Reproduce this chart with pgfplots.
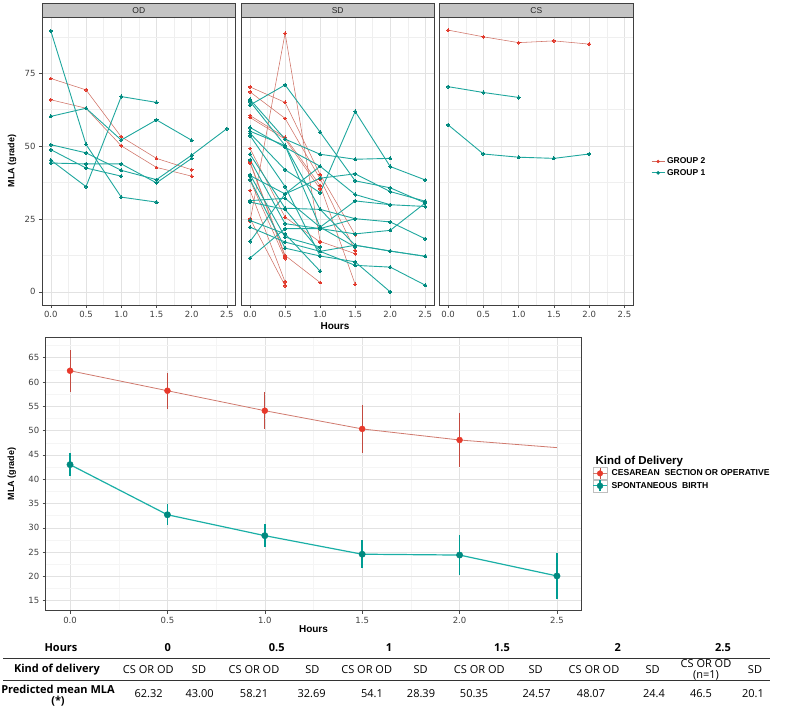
\documentclass[border=0pt]{standalone}
\usepackage{fontspec}
\setmainfont{Liberation Sans}
\newfontfamily\dejavu{DejaVu Sans}
\newfontfamily\opensans{Open Sans}
\usepackage{pgfplots}
\pgfplotsset{compat=1.18}
\definecolor{tealLine}{HTML}{1FA79E}
\definecolor{tealPt}{HTML}{00897E}
\definecolor{redLine}{HTML}{CF7165}
\definecolor{redPt}{HTML}{E2392C}
\definecolor{bRedLine}{HTML}{D07A6E}
\definecolor{bRedErr}{HTML}{C34A40}
\definecolor{bRedPt}{HTML}{E8392B}
\definecolor{bTealLine}{HTML}{1AAFA6}
\definecolor{bTealPt}{HTML}{008A80}
\definecolor{bTealErr}{HTML}{009C92}
\definecolor{gridMaj}{HTML}{E2E2E2}
\definecolor{gridMin}{HTML}{EFEFEF}
\definecolor{stripGray}{HTML}{C4C4C4}
\pgfplotsset{
  common/.style={scale only axis,
    xmin=-0.125, xmax=2.625,
    xtick={0,0.5,1,1.5,2,2.5}, xticklabels={0.0,0.5,1.0,1.5,2.0,2.5},
    minor xtick={0.25,0.75,1.25,1.75,2.25},
    grid=both, major grid style={color=gridMaj, line width=0.5pt},
    minor grid style={color=gridMin, line width=0.4pt},
    tick align=outside, xtick pos=bottom, ytick pos=left,
    major tick length=3pt, minor tick length=0pt,
    tick style={color=black!70, line width=0.5pt},
    axis line style={color=black!75, line width=0.7pt},
    ticklabel style={font=\dejavu\fontsize{8.5}{10}\selectfont, color=black!75},
    /pgf/number format/assume math mode=true},
  panel/.style={common, width=193.5pt, height=288pt, ymin=-4.5, ymax=94.3,
    ytick={0,25,50,75}, yticklabels={0,25,50,75},
    minor ytick={12.5,37.5,62.5,87.5}},
  tl/.style={color=tealLine, line width=0.9pt, mark=*, mark size=1.6pt,
    mark options={fill=tealPt, draw=tealPt, line width=0pt}, forget plot},
  rl/.style={color=redLine, line width=0.55pt, mark=*, mark size=1.4pt,
    mark options={fill=redPt, draw=redPt, line width=0pt}, forget plot},
}
\begin{document}
\begin{tikzpicture}
\useasboundingbox (0pt,0pt) rectangle (787pt,712pt);
% ---------------- OD ----------------
\begin{axis}[panel, at={(42pt,407pt)}, anchor=south west, width=193.7pt,
  ylabel={\bfseries MLA (grade)},
  ylabel style={font=\fontsize{9}{10}\selectfont, at={(axis description cs:-0.115,0.5)}, anchor=south}]
\addplot[rl] coordinates {(0,73.2)(0.5,69.3)(1,53.2)(1.5,45.8)(2,41.9)};
\addplot[rl] coordinates {(0,65.9)(0.5,63.0)(1,50.1)(1.5,42.7)(2,39.7)};
\addplot[tl] coordinates {(0,89.5)(0.5,50.6)(1,32.5)(1.5,30.8)};
\addplot[tl] coordinates {(0,60.2)(0.5,63.0)(1,52.1)(1.5,59.0)(2,52.0)};
\addplot[tl] coordinates {(0,50.5)(0.5,47.7)(1,41.7)(1.5,38.5)(2,46.9)(2.5,56.0)};
\addplot[tl] coordinates {(0,48.8)(0.5,42.5)(1,39.7)};
\addplot[tl] coordinates {(0,44.2)(0.5,43.9)(1,43.9)(1.5,37.4)(2,45.8)};
\addplot[tl] coordinates {(0,45.2)(0.5,36.1)(1,67.0)(1.5,65.0)};
\end{axis}
% ---------------- SD ----------------
\begin{axis}[panel, at={(241.3pt,407pt)}, anchor=south west, width=192.7pt,
  yticklabels={}, ytick style={draw=none}]
\addplot[rl] coordinates {(0,24.2)(0.5,88.7)(1,17.3)(1.5,13.1)};
\addplot[rl] coordinates {(0,70.3)(0.5,65.0)(1,40.2)(1.5,19.6)};
\addplot[rl] coordinates {(0,68.6)(0.5,59.5)(1,38.8)(1.5,14.2)};
\addplot[rl] coordinates {(0,60.5)(0.5,53.0)(1,36.5)(1.5,2.6)};
\addplot[rl] coordinates {(0,59.8)(0.5,52.4)(1,35.3)};
\addplot[rl] coordinates {(0,49.2)(0.5,25.6)(1,17.1)};
\addplot[rl] coordinates {(0,44.6)(0.5,12.5)(1,3.2)};
\addplot[rl] coordinates {(0,44.2)(0.5,12.0)};
\addplot[rl] coordinates {(0,38.2)(0.5,11.4)};
\addplot[rl] coordinates {(0,34.8)(0.5,3.4)};
\addplot[rl] coordinates {(0,25.1)(0.5,2.1)};
\addplot[tl] coordinates {(0,64.1)(0.5,71.0)(1,54.8)(1.5,38.1)(2,35.7)(2.5,30.5)};
\addplot[tl] coordinates {(0,66.0)(0.5,52.4)(1,47.2)(1.5,45.5)(2,45.8)};
\addplot[tl] coordinates {(0,65.3)(0.5,50.2)(1,22.2)(1.5,15.4)};
\addplot[tl] coordinates {(0,56.4)(0.5,49.6)(1,43.1)(1.5,33.4)(2,29.9)(2.5,29.3)};
\addplot[tl] coordinates {(0,55.1)(0.5,50.2)(1,28.3)(1.5,16.0)(2,14.0)(2.5,12.2)};
\addplot[tl] coordinates {(0,54.4)(0.5,41.9)(1,34.0)(1.5,61.9)(2,43.0)(2.5,38.4)};
\addplot[tl] coordinates {(0,53.6)(0.5,36.1)(1,12.3)(1.5,10.3)(2,0.0)};
\addplot[tl] coordinates {(0,47.2)(0.5,28.7)(1,28.3)(1.5,25.1)(2,24.0)(2.5,18.2)};
\addplot[tl] coordinates {(0,45.3)(0.5,23.4)(1,21.7)(1.5,19.9)(2,21.1)(2.5,30.5)};
\addplot[tl] coordinates {(0,40.2)(0.5,18.8)(1,15.4)};
\addplot[tl] coordinates {(0,39.9)(0.5,33.6)(1,39.0)(1.5,40.5)(2,34.4)(2.5,31.1)};
\addplot[tl] coordinates {(0,31.3)(0.5,32.1)(1,22.2)(1.5,31.2)(2,29.9)};
\addplot[tl] coordinates {(0,30.8)(0.5,28.3)(1,13.9)(1.5,9.1)(2,8.5)(2.5,2.3)};
\addplot[tl] coordinates {(0,24.5)(0.5,19.9)(1,7.1)};
\addplot[tl] coordinates {(0,22.2)(0.5,17.1)(1,13.9)(1.5,16.0)(2,14.0)(2.5,12.2)};
\addplot[tl] coordinates {(0,17.3)(0.5,33.6)(1,43.1)};
\addplot[tl] coordinates {(0,11.6)(0.5,21.7)(1,21.7)(1.5,25.1)};
\addplot[tl] coordinates {(0,38.5)(0.5,15.0)(1,12.3)};
\end{axis}
% ---------------- CS ----------------
\begin{axis}[panel, at={(439.3pt,407pt)}, anchor=south west, width=194pt,
  yticklabels={}, ytick style={draw=none},
  legend style={at={(axis description cs:1.091,0.519)}, anchor=north west,
    draw=none, fill=none, inner sep=0pt, row sep=0pt,
    font=\bfseries\fontsize{8.5}{10}\selectfont},
  legend cell align=left]
\addlegendimage{legend image code/.code={\draw[redLine,line width=0.6pt] (0pt,0pt)--(13pt,0pt); \fill[redPt] (6.5pt,0pt) circle (1.5pt);}}
\addlegendentry{GROUP 2}
\addlegendimage{legend image code/.code={\draw[tealLine,line width=0.9pt] (0pt,0pt)--(13pt,0pt); \fill[tealPt] (6.5pt,0pt) circle (1.7pt);}}
\addlegendentry{GROUP 1}
\addplot[rl] coordinates {(0,89.8)(0.5,87.5)(1,85.5)(1.5,86.1)(2,85.0)};
\addplot[tl] coordinates {(0,70.4)(0.5,68.4)(1,66.7)};
\addplot[tl] coordinates {(0,57.3)(0.5,47.3)(1,46.2)(1.5,45.8)(2,47.3)};
\end{axis}
% strips
\foreach \l/\r/\t in {42/235.7/OD, 241.3/434/SD, 439.3/633.3/CS}{
  \draw[fill=stripGray, draw=black!75, line width=0.7pt] (\l pt,695pt) rectangle (\r pt,708.7pt);
  \node[font=\fontsize{8.5}{10}\selectfont, text=black!85] at ({(\l+\r)/2 pt},701.85pt) {\t};
}
\node[font=\bfseries\fontsize{10}{11}\selectfont] at (335pt,386pt) {Hours};
% ---------------- bottom ----------------
\begin{axis}[common, at={(45.7pt,101.3pt)}, anchor=south west,
  width=535.6pt, height=273.4pt, ymin=12.95, ymax=69.2,
  ytick={15,20,25,30,35,40,45,50,55,60,65},
  yticklabels={15,20,25,30,35,40,45,50,55,60,65},
  minor ytick={17.5,22.5,27.5,32.5,37.5,42.5,47.5,52.5,57.5,62.5,67.5},
  minor grid style={color=gridMin!60, line width=0.4pt},
  xlabel={\bfseries Hours}, xlabel style={font=\fontsize{10}{11}\selectfont, at={(axis description cs:0.5,-0.068)}, anchor=center},
  ylabel={\bfseries MLA (grade)},
  ylabel style={font=\fontsize{9}{10}\selectfont, at={(axis description cs:-0.049,0.5)}, anchor=south},
  legend style={at={(axis description cs:1.0205,0.5256)}, anchor=north west,
    draw=none, fill=none, inner sep=0pt, row sep=0pt,
    nodes={inner sep=0pt, inner xsep=4pt},
    font=\bfseries\fontsize{8.6}{9}\selectfont},
  legend cell align=left]
\addlegendimage{legend image code/.code={
  \draw[black!25,line width=0.4pt] (0pt,-6pt) rectangle (14pt,6pt);
  \draw[bRedLine,line width=0.8pt] (0pt,0pt)--(14pt,0pt);
  \draw[bRedErr,line width=1pt] (7pt,-5.5pt)--(7pt,5.5pt);
  \fill[bRedPt] (7pt,0pt) circle (2.8pt);}}
\addlegendentry{CESAREAN\ \ SECTION OR OPERATIVE}
\addlegendimage{legend image code/.code={
  \draw[black!25,line width=0.4pt] (0pt,-6pt) rectangle (14pt,6pt);
  \draw[bTealLine,line width=1.1pt] (0pt,0pt)--(14pt,0pt);
  \draw[bTealErr,line width=1.3pt] (7pt,-5.5pt)--(7pt,5.5pt);
  \fill[bTealPt] (7pt,0pt) circle (3pt);}}
\addlegendentry{SPONTANEOUS\ \ BIRTH}
\addplot[bRedLine, line width=0.8pt, forget plot] coordinates {(0,62.32)(0.5,58.21)(1,54.1)(1.5,50.35)(2,48.07)(2.5,46.5)};
\addplot[bRedPt, only marks, mark=*, mark size=3pt, forget plot,
  error bars/.cd, y dir=both, y explicit, error mark=none,
  error bar style={bRedErr, line width=1pt}]
  table[x=x, y=y, y error=e] {
x y e
0 62.32 4.3
0.5 58.21 3.7
1 54.1 3.8
1.5 50.35 5.0
2 48.07 5.6
};
\addplot[bTealLine, line width=1.2pt, forget plot] coordinates {(0,43.00)(0.5,32.69)(1,28.39)(1.5,24.57)(2,24.4)(2.5,20.1)};
\addplot[bTealPt, only marks, mark=*, mark size=3.2pt, forget plot,
  error bars/.cd, y dir=both, y explicit, error mark=none,
  error bar style={bTealErr, line width=1.4pt}]
  table[x=x, y=y, y error=e] {
x y e
0 43.00 2.35
0.5 32.69 2.2
1 28.39 2.35
1.5 24.57 2.85
2 24.4 4.2
2.5 20.1 4.8
};
\end{axis}
\node[anchor=west, font=\bfseries\fontsize{11.5}{13}\selectfont] at (592pt,250.3pt) {Kind of Delivery};
% ---------------- table ----------------
\begin{scope}[font=\opensans\fontsize{11}{12}\selectfont]
\node[font=\opensans\bfseries\fontsize{11}{12}\selectfont] at (61pt,64.7pt) {Hours};
\foreach \x/\t in {167.7/0, 276.7/0.5, 389/1, 502/1.5, 617.7/2, 723/2.5}
  \node[font=\opensans\bfseries\fontsize{11}{12}\selectfont] at (\x pt,64.7pt) {\t};
\draw[black!80, line width=0.9pt] (3.3pt,53.7pt) -- (770pt,53.7pt);
\node[font=\opensans\bfseries\fontsize{11}{12}\selectfont] at (57pt,42pt) {Kind of delivery};
\foreach \x/\t in {148.3/CS OR OD, 199/SD, 254/CS OR OD, 312.3/SD, 366.7/CS OR OD, 420.7/SD, 479.3/CS OR OD, 535.7/SD, 594/CS OR OD, 652.7/SD, 755/SD}
  \node at (\x pt,42pt) {\t};
\node[inner sep=0pt] at (706pt,48.3pt) {CS OR OD};
\node[inner sep=0pt] at (706pt,36.3pt) {(n=1)};
\draw[black!80, line width=0.9pt] (3.3pt,31.3pt) -- (770pt,31.3pt);
\node[inner sep=0pt, font=\opensans\bfseries\fontsize{11}{12}\selectfont] at (58pt,23pt) {Predicted mean MLA};
\node[inner sep=0pt, font=\opensans\bfseries\fontsize{11}{12}\selectfont] at (58pt,11pt) {(*)};
\foreach \x/\t in {148.7/62.32, 199.7/43.00, 254/58.21, 311.7/32.69, 372/54.1, 421/28.39, 474/50.35, 536.7/24.57, 591/48.07, 654/24.4, 701/46.5, 753/20.1}
  \node at (\x pt,18pt) {\t};
\end{scope}
\end{tikzpicture}
\end{document}
